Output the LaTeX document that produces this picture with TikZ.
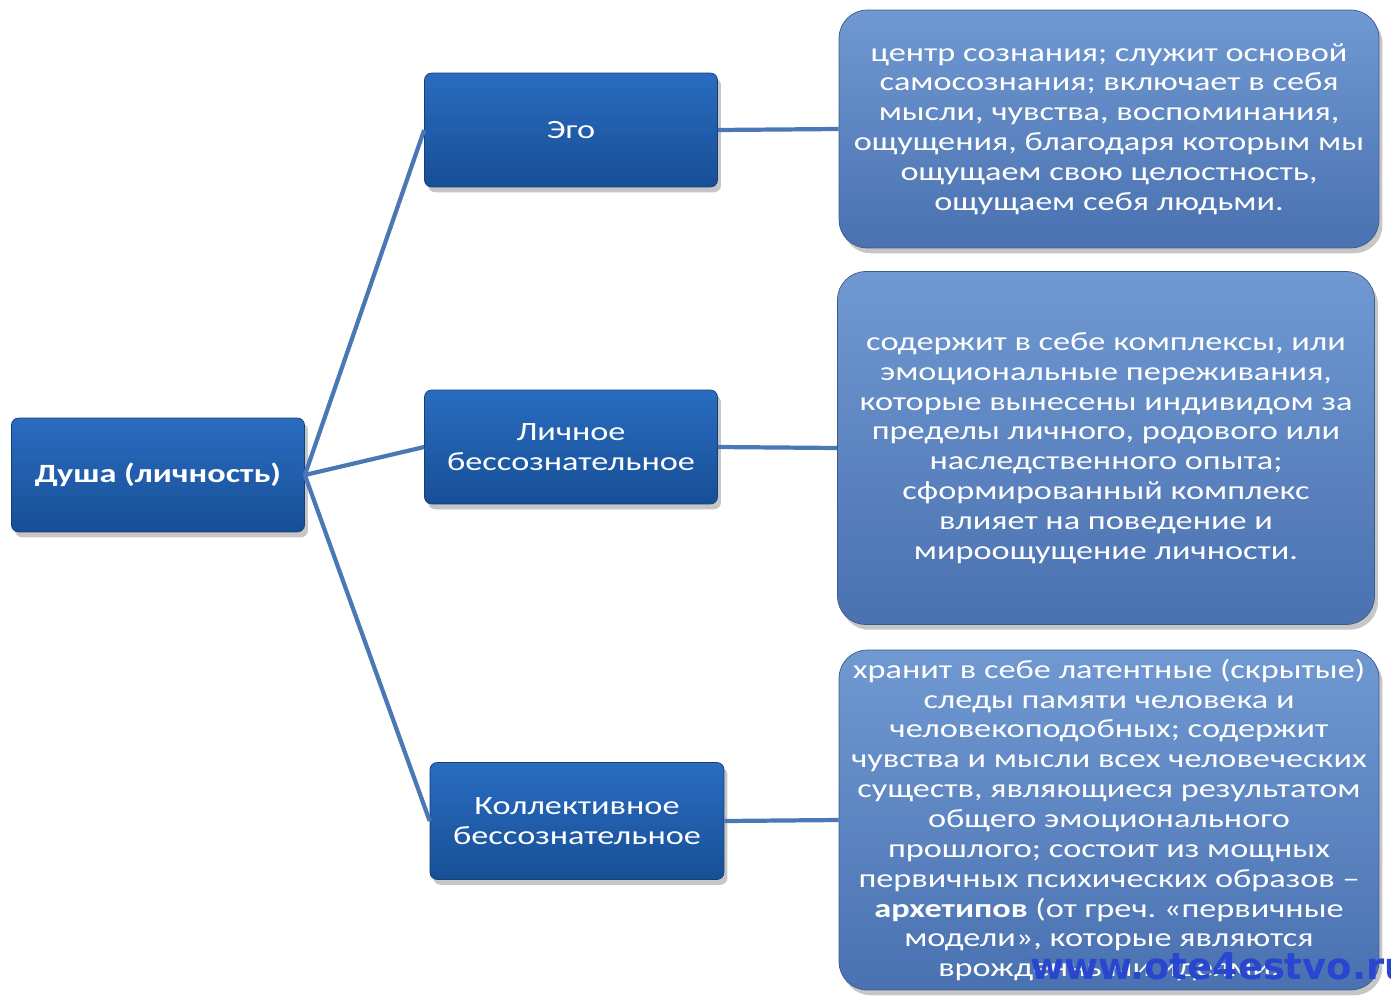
\documentclass[tikz,border=0pt]{standalone}
\usepackage{fontspec}
\setmainfont{Carlito}[FakeStretch=1.3]
\newfontfamily\sitefont{DejaVu Sans}
\usetikzlibrary{positioning, shadows}
\definecolor{soultop}{HTML}{2A6CC0}
\definecolor{soulbot}{HTML}{174F96}
\definecolor{desctop}{HTML}{7099D2}
\definecolor{descbot}{HTML}{4A71B0}
\definecolor{linkblue}{HTML}{4A78B4}
\definecolor{siteblue}{HTML}{2A45D0}
\frenchspacing

\begin{document}
\begin{tikzpicture}
  [x=0.02cm, y=-0.02cm,
   box/.style={rounded corners=4pt, draw=soulbot!80!black, thin,
     top color=soultop, bottom color=soulbot, text=white,
     drop shadow={opacity=0.45, shadow xshift=2pt, shadow yshift=-3pt},
     align=center, inner sep=2pt,
     font=\fontsize{15}{17}\selectfont},
   soul/.style={box, minimum width=5.86cm, minimum height=2.28cm,
     font=\fontsize{15}{17}\selectfont\bfseries},
   part/.style={box, minimum width=5.86cm, minimum height=2.28cm},
   desc/.style={box, rounded corners=16pt, draw=descbot!80!black,
     top color=desctop, bottom color=descbot, minimum width=10.8cm},
   link/.style={draw=linkblue, line width=2.4pt}]
  \useasboundingbox (0,0) rectangle (1391,997);

  % left side
  \node (soul) at (158, 475) [soul] {Душа (личность)};
  \node (ego) at (571, 130) [part] {Эго};
  \node (pers) at (571, 447) [part] {Личное\\бессознательное};
  \node (coll) at (577, 821) [part, minimum width=5.88cm, minimum height=2.34cm]
    {Коллективное\\бессознательное};

  % right side
  \node (egotext) at (1109, 129) [desc, minimum height=4.76cm]
    {центр сознания; служит основой\\
     самосознания; включает в себя\\
     мысли, чувства, воспоминания,\\
     ощущения, благодаря которым мы\\
     ощущаем свою целостность,\\
     ощущаем себя людьми.};
  \node (perstext) at (1106, 448) [desc, minimum width=10.74cm, minimum height=7.06cm]
    {содержит в себе комплексы, или\\
     эмоциональные переживания,\\
     которые вынесены индивидом за\\
     пределы личного, родового или\\
     наследственного опыта;\\
     сформированный комплекс\\
     влияет на поведение и\\
     мироощущение личности.};
  \node (colltext) at (1109, 820) [desc, minimum height=6.8cm]
    {хранит в себе латентные (скрытые)\\
     следы памяти человека и\\
     человекоподобных; содержит\\
     чувства и мысли всех человеческих\\
     существ, являющиеся результатом\\
     общего эмоционального\\
     прошлого; состоит из мощных\\
     первичных психических образов --\\
     \textbf{архетипов} (от греч. «первичные\\
     модели», которые являются\\
     врожденными идеями.};

  % connectors
  \draw [link] (soul.east) -- (ego.west);
  \draw [link] (soul.east) -- (pers.west);
  \draw [link] (soul.east) -- (coll.west);
  \draw [link] (ego.east) -- (egotext.west);
  \draw [link] (pers.east) -- (perstext.west);
  \draw [link] (coll.east) -- (colltext.west);

  \node (site) at (1030, 966) [anchor=west, inner sep=0pt, text=siteblue,
    font=\sitefont\bfseries\fontsize{21}{23}\selectfont] {www.ote4estvo.ru};
\end{tikzpicture}
\end{document}
